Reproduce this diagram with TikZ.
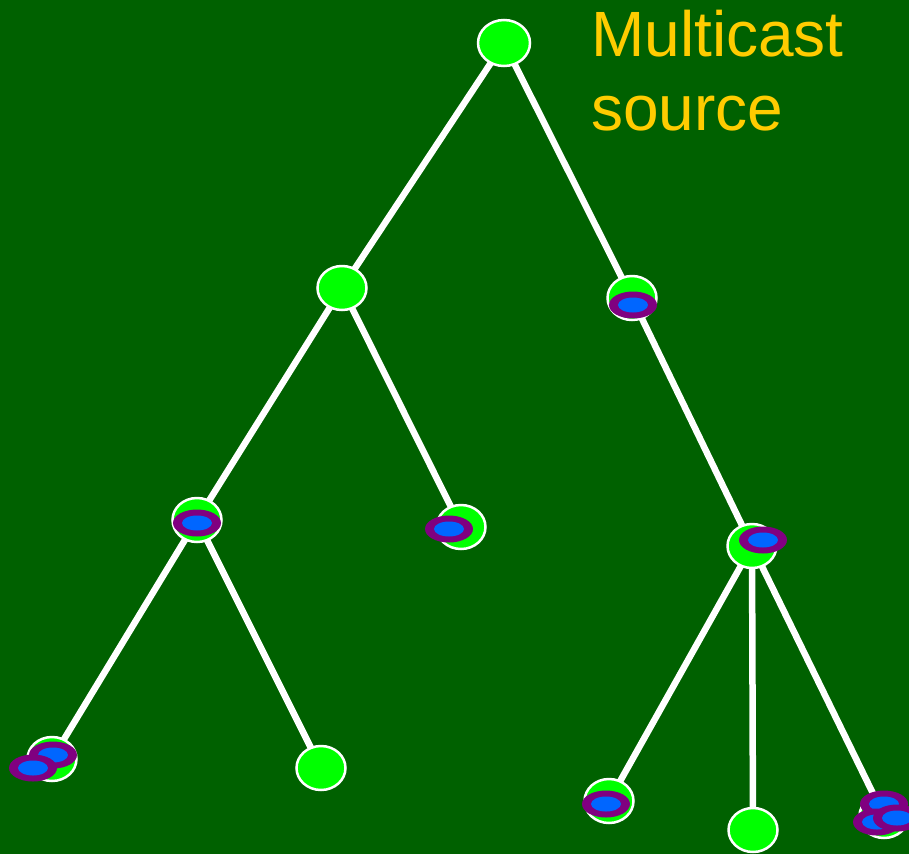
\documentclass[tikz,border=0pt]{standalone}
\usepackage{fontspec}
\setmainfont{Liberation Sans}
\usetikzlibrary{shapes.geometric}
\definecolor{bgdark}{HTML}{006100}
\definecolor{nodegreen}{HTML}{00FF00}
\definecolor{ringpurple}{HTML}{800080}
\definecolor{ringblue}{HTML}{0066FF}
\definecolor{labelyellow}{HTML}{FFCC00}
\pgfdeclarelayer{bg}
\pgfdeclarelayer{edges}
\pgfsetlayers{bg,edges,main}
\begin{document}
\begin{tikzpicture}[x=1pt,y=-1pt,
  router/.style={ellipse, fill=nodegreen, draw=white, line width=2.5pt,
                 minimum width=49pt, minimum height=44pt, inner sep=0pt},
  wire/.style={draw=white, line width=6.5pt},
  srclabel/.style={text=labelyellow, font=\fontsize{64}{76}\selectfont,
                   inner sep=0pt, anchor=base west},
  ring/.pic={
    \fill[ringpurple] (0,0) ellipse [x radius=24pt, y radius=13.5pt];
    \fill[ringblue] (0,0) ellipse [x radius=15pt, y radius=7.5pt];
  }]

\begin{pgfonlayer}{bg}
  \fill[bgdark] (0,0) rectangle (909,854);
\end{pgfonlayer}
\useasboundingbox (0,0) rectangle (909,854);

% routers of the multicast tree
\node[router, minimum width=52pt, minimum height=46pt] (root) at (504,43) {};
\node[router] (a) at (342,288) {};
\node[router] (b) at (632,298) {};
\node[router] (c) at (197,520) {};
\node[router] (d) at (461,527) {};
\node[router] (e) at (752,546) {};
\node[router] (h) at (52,759) {};
\node[router] (f) at (321,768) {};
\node[router] (i) at (609,801) {};
\node[router] (g) at (753,830) {};
\node[router] (j) at (884,816) {};

% tree links
\begin{pgfonlayer}{edges}
  \draw[wire] (root.center) -- (a.center);
  \draw[wire] (root.center) -- (b.center);
  \draw[wire] (a.center) -- (c.center);
  \draw[wire] (a.center) -- (d.center);
  \draw[wire] (b.center) -- (e.center);
  \draw[wire] (c.center) -- (h.center);
  \draw[wire] (c.center) -- (f.center);
  \draw[wire] (e.center) -- (i.center);
  \draw[wire] (e.center) -- (g.center);
  \draw[wire] (e.center) -- (j.center);
\end{pgfonlayer}

% group-membership rings on the routers
\pic at (633,305) {ring};
\pic at (197,523) {ring};
\pic at (449,529) {ring};
\pic at (763,540) {ring};
\pic at (606,804) {ring};
\pic at (53,755) {ring};
\pic at (33,768) {ring};
\pic at (884,804) {ring};
\pic at (877,822) {ring};
\pic at (897,818) {ring};

% source label
\node[srclabel] (src1) at (591,56) {Multicast};
\node[srclabel] (src2) at (591,130) {source};
\end{tikzpicture}
\end{document}
